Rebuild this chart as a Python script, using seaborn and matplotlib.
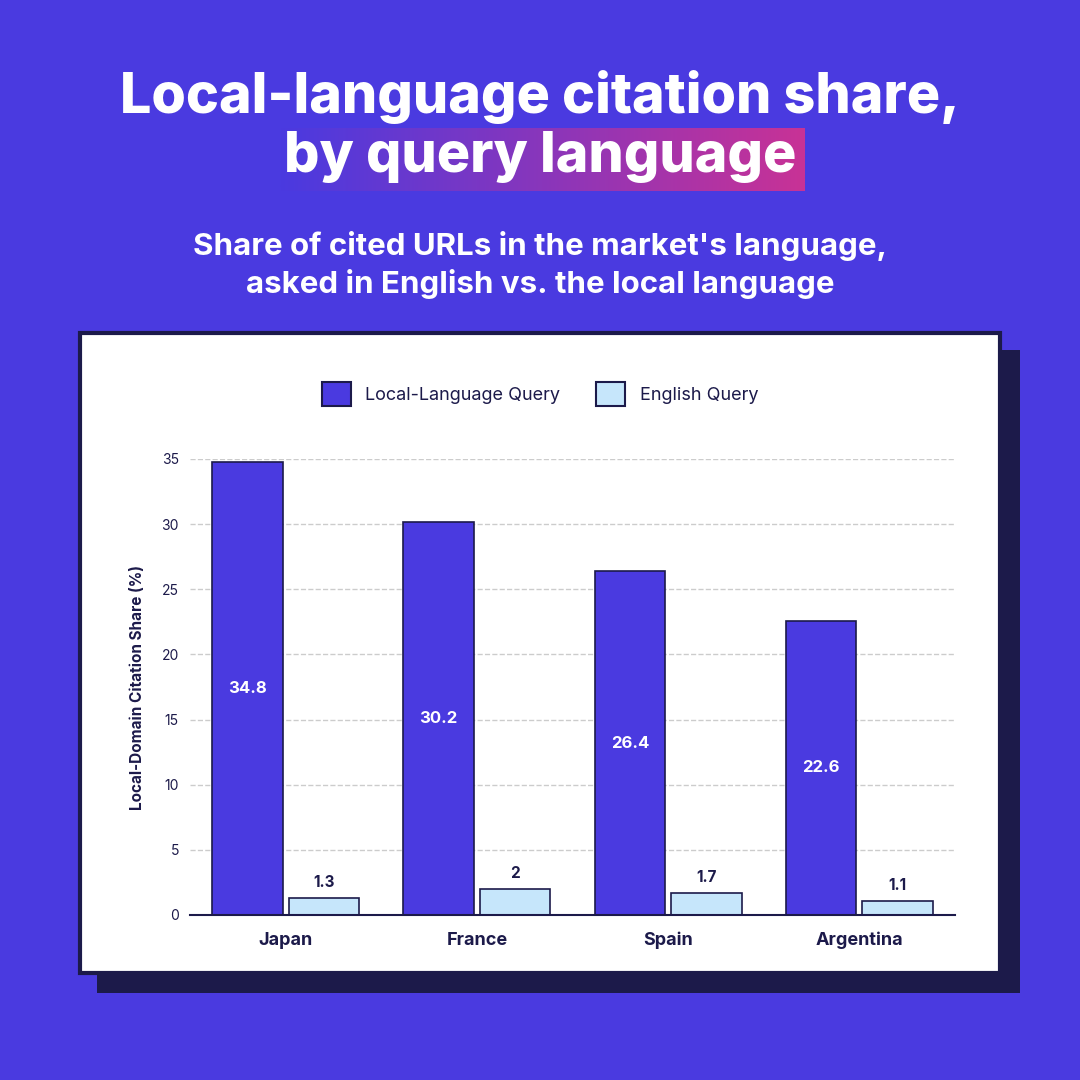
import numpy as np
import pandas as pd
import matplotlib.pyplot as plt
import seaborn as sns
from matplotlib.patches import Rectangle

# --- datos ---
countries = ['Japan', 'France', 'Spain', 'Argentina']
local_query = [34.8, 30.2, 26.4, 22.6]
english_query = [1.3, 2, 1.7, 1.1]
series_names = ['Local-Language Query', 'English Query']
y_ticks = [0, 5, 10, 15, 20, 25, 30, 35]

bg = '#4a3ae0'
navy = '#1c1a4a'
colors = ['#4a3ae0', '#c6e6fb']

df = pd.DataFrame({
    'country': countries * 2,
    'serie': [series_names[0]] * 4 + [series_names[1]] * 4,
    'value': local_query + english_query,
})

sns.set_style('white')
plt.rcParams['font.family'] = ['Inter', 'DejaVu Sans']

fig = plt.figure(figsize=(10.8, 10.8), dpi=100)
fig.patch.set_facecolor(bg)

# tarjeta con sombra
fig.patches.append(Rectangle((97 / 1080, 1 - 993 / 1080), 923 / 1080, 643 / 1080,
                             transform=fig.transFigure, facecolor=navy,
                             edgecolor='none', linewidth=0, zorder=0))
fig.patches.append(Rectangle((80 / 1080, 1 - 973 / 1080), 920 / 1080, 640 / 1080,
                             transform=fig.transFigure, facecolor='white',
                             edgecolor=navy, linewidth=3, zorder=1))

# degradado detras de "by query language"
gax = fig.add_axes([280 / 1080, 1 - 191 / 1080, 525 / 1080, 63 / 1080])
g = np.linspace(0, 1, 256)
c0 = np.array([0x4a, 0x3a, 0xe0]) / 255
c1 = np.array([0xc8, 0x32, 0x96]) / 255
grad = np.zeros((1, 256, 4))
grad[0, :, :3] = c0 + (c1 - c0) * g[:, None]
grad[0, :, 3] = 1
gax.imshow(grad, aspect='auto', extent=[0, 1, 0, 1])
gax.axis('off')

fig.text(0.5, 1 - 97 / 1080, 'Local-language citation share,', ha='center', va='center',
         color='white', fontsize=40, fontweight='heavy')
fig.text(0.5, 1 - 157 / 1080, 'by query language', ha='center', va='center',
         color='white', fontsize=40, fontweight='heavy')
fig.text(0.5, 1 - 246 / 1080, "Share of cited URLs in the market's language,", ha='center',
         va='center', color='white', fontsize=22.5, fontweight='bold')
fig.text(0.5, 1 - 284 / 1080, 'asked in English vs. the local language', ha='center',
         va='center', color='white', fontsize=22.5, fontweight='bold')

ax = fig.add_axes([190 / 1080, 1 - 915 / 1080, 765 / 1080, 456 / 1080])
ax.set_zorder(3)
ax.patch.set_alpha(0)
sns.barplot(data=df, x='country', y='value', hue='serie', palette=colors, saturation=1,
            edgecolor=navy, linewidth=1.2, width=0.8, gap=0.08, ax=ax, legend=False)

ax.set_xlim(-0.5, 3.5)
ax.set_ylim(0, 35)
ax.set_yticks(y_ticks)
ax.grid(axis='y', color='#cccccc', linestyle='--', linewidth=1)
ax.set_axisbelow(True)
for s in ['top', 'right', 'left']:
    ax.spines[s].set_visible(False)
ax.spines['bottom'].set_color(navy)
ax.spines['bottom'].set_linewidth(1.5)
ax.tick_params(axis='y', length=0, labelsize=10, labelcolor=navy, pad=8)
ax.tick_params(axis='x', length=0, labelsize=13, labelcolor=navy, pad=12)
for lbl in ax.get_xticklabels():
    lbl.set_fontweight('bold')
ax.set_xlabel('')
ax.set_ylabel('Local-Domain Citation Share (%)', fontsize=11, fontweight='bold',
              color=navy, labelpad=12)

for i, bars in enumerate(ax.containers):
    for b, v in zip(bars, local_query if i == 0 else english_query):
        x = b.get_x() + b.get_width() / 2
        if i == 0:
            ax.text(x, v / 2, f'{v:g}', ha='center', va='center', color='white',
                    fontsize=12, fontweight='bold')
        else:
            ax.text(x, v + 0.6, f'{v:g}', ha='center', va='bottom', color=navy,
                    fontsize=11, fontweight='bold')

# leyenda
handles = [Rectangle((0, 0), 1, 1, facecolor=c, edgecolor=navy, linewidth=1.5) for c in colors]
fig.legend(handles, series_names, loc='center', bbox_to_anchor=(540 / 1080, 1 - 394 / 1080),
           ncol=2, frameon=False, fontsize=13, handlelength=1.6, handleheight=1.6,
           columnspacing=2, labelcolor=navy)

fig.savefig('out.png', dpi=100, facecolor=bg)
